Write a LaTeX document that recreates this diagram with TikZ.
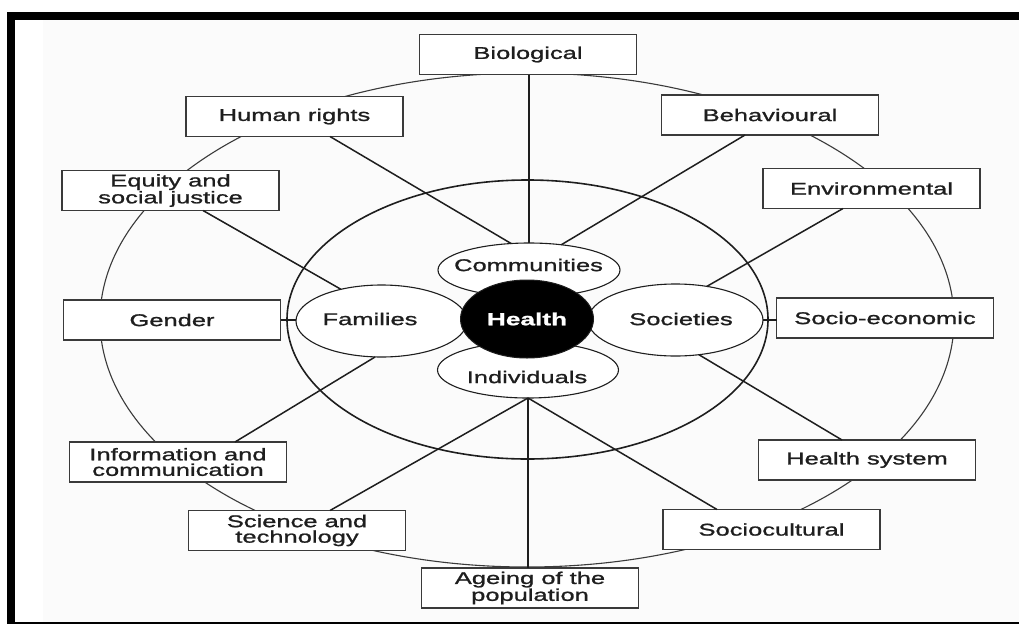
\documentclass[tikz,border=0pt]{standalone}
\usepackage{fontspec}
\setmainfont{Liberation Sans}[FakeStretch=1.5,FakeBold=1.2]
\usetikzlibrary{shapes.geometric}
\definecolor{ink}{HTML}{1E1E1E}
\definecolor{boxline}{HTML}{3A3A3A}
\definecolor{paper}{HTML}{FBFBFB}
\tikzset{
  factor/.style={draw=boxline, line width=1.2pt, fill=white, minimum width=217pt,
    minimum height=40pt, inner sep=0pt, outer sep=0pt, align=center, text=ink,
    font=\fontsize{17}{15.5}\selectfont},
  petal/.style={ellipse, draw=ink, line width=1.1pt, inner sep=0pt, outer sep=0pt},
  petallabel/.style={inner sep=0pt, text=ink, font=\fontsize{17}{15.5}\selectfont},
  spoke/.style={draw=ink, line width=1.5pt},
  outerring/.style={draw=boxline, line width=1.1pt},
  innerring/.style={draw=ink, line width=1.6pt}
}
\begin{document}
\begin{tikzpicture}[x=1pt,y=-1pt]
\useasboundingbox (0,0) rectangle (1019,624);
% page and frame
\fill[white] (0,0) rectangle (1019,624);
\fill[paper] (43,20) rectangle (1019,621.5);
\fill[black] (7,12) rectangle (1019,20);
\fill[black] (7,12) rectangle (15,624);
\fill[black] (7,621.5) rectangle (1019,624);
% rings
\draw[outerring] (527,320) ellipse [x radius=427, y radius=247];
\draw[innerring] (527.5,319.5) ellipse [x radius=240.5, y radius=139.5];
% factor boxes
\node[factor] (bio) at (528,54.5) {Biological};
\node[factor] (hr) at (294.5,116.5) {Human rights};
\node[factor] (beh) at (770,115) {Behavioural};
\node[factor] (eq) at (170.5,190.5) {Equity and\\social justice};
\node[factor] (env) at (871.5,188.5) {Environmental};
\node[factor] (gen) at (172,320) {Gender};
\node[factor] (se) at (885,318) {Socio-economic};
\node[factor] (info) at (178,462) {Information and\\communication};
\node[factor] (hs) at (867,460) {Health system};
\node[factor] (sci) at (297,530.5) {Science and\\technology};
\node[factor] (scc) at (771.5,529.5) {Sociocultural};
\node[factor] (age) at (530,588) {Ageing of the\\population};
% petals: white fills first, then outlines
\fill[white] (529,270) ellipse [x radius=91, y radius=27];
\fill[white] (528,370) ellipse [x radius=90.5, y radius=28];
\fill[white] (381.5,321) ellipse [x radius=85.5, y radius=36];
\fill[white] (675.5,320) ellipse [x radius=87.5, y radius=36];
\node[petal, minimum width=182pt, minimum height=54pt] (comm) at (529,270) {};
\node[petal, minimum width=181pt, minimum height=56pt] (ind) at (528,370) {};
\node[petal, minimum width=171pt, minimum height=72pt] (fam) at (381.5,321) {};
\node[petal, minimum width=175pt, minimum height=72pt] (soc) at (675.5,320) {};
\node[petallabel] (commlbl) at (528.5,265) {Communities};
\node[petallabel] (indlbl) at (527,377) {Individuals};
\node[petallabel] (famlbl) at (370,319) {Families};
\node[petallabel] (soclbl) at (681,319) {Societies};
% spokes
\draw[spoke] (comm.north |- bio.south) -- (comm.north);
\draw[spoke] ([xshift=35.5pt]hr.south) -- (comm.124);
\draw[spoke] ([xshift=-25pt]beh.south) -- (comm.38);
\draw[spoke] ([xshift=32.5pt]eq.south) -- (fam.142);
\draw[spoke] ([xshift=-28.5pt]env.south) -- (soc.47);
\draw[spoke] (gen.east) -- (gen.east -| fam.west);
\draw[spoke] (soc.east) -- (soc.east -| se.west);
\draw[spoke] ([xshift=57pt]info.north) -- (fam.260);
\draw[spoke] ([xshift=33pt]sci.north) -- (ind.south);
\draw[spoke] (ind.south) -- (ind.south |- age.north);
\draw[spoke] ([xshift=-54.5pt]scc.north) -- (ind.south);
\draw[spoke] ([xshift=-25pt]hs.north) -- (soc.304);
% centre
\node[ellipse, fill=black, draw=ink, line width=1pt, minimum width=133pt, minimum height=78pt,
  inner sep=0pt, text=white, font=\fontsize{17.5}{17.5}\selectfont\bfseries] (health) at (527,319) {Health};
\end{tikzpicture}
\end{document}
